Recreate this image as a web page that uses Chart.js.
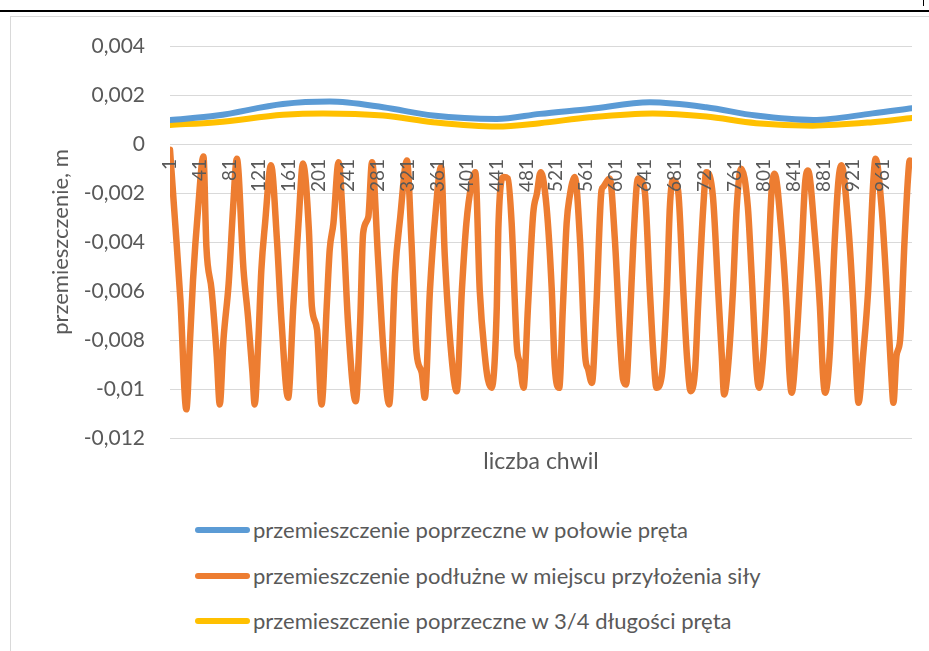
<!DOCTYPE html>
<html lang="pl">
<head>
<meta charset="utf-8">
<title>przemieszczenie</title>
<script src="https://cdn.jsdelivr.net/npm/chart.js@4.4.1/dist/chart.umd.min.js"></script>
<style>
  html, body { margin: 0; padding: 0; background: #fff; }
  body { width: 929px; height: 651px; overflow: hidden; position: relative; font-family: Lato, sans-serif; }
  .kreska { position: absolute; left: 0; top: 10px; width: 929px; height: 2px; background: #000; }
  .znak { position: absolute; left: 923px; top: 0; width: 1px; height: 6px; background: #000; }
  .ramka { position: absolute; left: 10px; top: 16px; width: 940px; height: 700px; border: 1px solid #d9d9d9; }
  #wykres { position: absolute; left: 0; top: 0; }
  .poz { position: absolute; left: 195px; height: 30px; }
  .poz .linia { position: absolute; left: 0; top: 12px; width: 55px; height: 6px; border-radius: 3px; }
  .poz .tekst { position: absolute; left: 58px; top: 0; line-height: 30px; font-size: 22px; color: #595959; white-space: nowrap; }
</style>
</head>
<body>
<div class="kreska"></div>
<div class="znak"></div>
<div class="ramka"></div>
<canvas id="wykres" width="929" height="490"></canvas>
<div id="legenda"></div>
<script>
// dane
const nazwy = [
  'przemieszczenie poprzeczne w połowie pręta',
  'przemieszczenie podłużne w miejscu przyłożenia siły',
  'przemieszczenie poprzeczne w 3/4 długości pręta'
];
const kolory = ['#5B9BD5', '#ED7D31', '#FFC000'];

const xTicks = [1, 41, 81, 121, 161, 201, 241, 281, 321, 361, 401, 441, 481, 521, 561, 601, 641, 681, 721, 761, 801, 841, 881, 921, 961];
const yTicks = [0.004, 0.002, 0, -0.002, -0.004, -0.006, -0.008, -0.01, -0.012];

// przemieszczenie poprzeczne w połowie pręta
const polowaX = [1, 64, 153, 216, 288, 355, 441, 499, 566, 647, 723, 790, 867, 947, 1000];
const polowaY = [0.00098, 0.00116, 0.00163, 0.00173, 0.00150, 0.00116, 0.00102, 0.00123, 0.00143, 0.00170, 0.00150, 0.00116, 0.00098, 0.00125, 0.00146];

// przemieszczenie poprzeczne w 3/4 długości pręta
const trzyCzwX = [1, 64, 153, 207, 288, 355, 441, 499, 566, 651, 723, 790, 866, 947, 1000];
const trzyCzwY = [0.00078, 0.00089, 0.00119, 0.00125, 0.00116, 0.00089, 0.00071, 0.00085, 0.00109, 0.00125, 0.00112, 0.00085, 0.00075, 0.00089, 0.00106];

// przemieszczenie podłużne w miejscu przyłożenia siły
const podluzneX = [
  1, 8, 15, 23, 28, 32, 39, 46, 50, 57, 64, 68, 73, 80, 86, 91, 100, 106, 112, 115,
  120, 124, 129, 137, 145, 151, 160, 167, 174, 180, 188, 192, 199, 205, 212, 216, 221, 228, 234, 241,
  251, 257, 261, 268, 273, 281, 288, 296, 304, 311, 320, 326, 333, 340, 344, 351, 358, 366, 371, 380,
  387, 394, 400, 407, 412, 418, 425, 429, 434, 441, 443, 450, 456, 461, 468, 472, 477, 483, 490, 495,
  500, 508, 515, 519, 525, 530, 535, 539, 546, 553, 560, 564, 569, 575, 582, 584, 593, 600, 607, 611,
  615, 620, 625, 631, 640, 647, 652, 656, 663, 670, 674, 678, 685, 692, 697, 702, 708, 712, 719, 723,
  732, 739, 744, 747, 752, 759, 764, 770, 779, 784, 791, 794, 800, 806, 811, 815, 824, 831, 835, 838,
  844, 851, 856, 860, 869, 876, 880, 883, 889, 896, 901, 905, 914, 921, 925, 928, 934, 941, 948, 951,
  959, 966, 972, 975, 979, 984, 990, 995, 997, 1000
];
const podluzneY = [
  -0.00024, -0.00324, -0.00636, -0.01083, -0.00799, -0.00555, -0.00257, -0.00051, -0.0042, -0.00596,
  -0.00867, -0.01063, -0.00799, -0.00568, -0.00257, -0.0006, -0.00514, -0.00704, -0.00934, -0.01063,
  -0.00799, -0.00514, -0.00324, -0.00087, -0.00392, -0.00717, -0.01036, -0.00663, -0.00324, -0.0008,
  -0.00352, -0.00663, -0.00758, -0.01063, -0.00663, -0.00433, -0.00324, -0.00074, -0.00324, -0.00745,
  -0.0105, -0.00731, -0.00365, -0.00298, -0.00074, -0.0046, -0.00826, -0.01063, -0.00528, -0.00298,
  -0.00067, -0.00392, -0.00853, -0.00934, -0.01036, -0.00596, -0.00298, -0.00094, -0.0046, -0.00867,
  -0.01009, -0.00596, -0.00324, -0.00162, -0.00115, -0.00596, -0.00867, -0.00961, -0.00995, -0.00663,
  -0.00352, -0.00135, -0.00141, -0.00324, -0.00826, -0.00894, -0.00995, -0.00663, -0.00284, -0.00202,
  -0.00115, -0.00257, -0.00596, -0.00907, -0.00995, -0.00663, -0.00324, -0.00216, -0.00135, -0.00392,
  -0.00867, -0.0092, -0.00975, -0.00663, -0.00189, -0.00176, -0.00141, -0.00392, -0.00799, -0.00961,
  -0.00982, -0.00731, -0.00392, -0.00141, -0.00189, -0.00596, -0.00867, -0.00995, -0.00948, -0.00596,
  -0.00257, -0.00148, -0.00189, -0.00596, -0.00867, -0.01009, -0.0092, -0.00663, -0.00257, -0.00115,
  -0.00216, -0.00596, -0.00867, -0.01022, -0.0092, -0.00596, -0.00257, -0.00101, -0.00257, -0.00528,
  -0.00934, -0.00995, -0.00853, -0.00528, -0.00189, -0.00121, -0.00352, -0.00663, -0.00934, -0.01015,
  -0.00826, -0.0046, -0.00162, -0.00108, -0.00365, -0.00663, -0.00934, -0.01015, -0.00867, -0.00392,
  -0.00148, -0.00087, -0.00324, -0.00663, -0.00934, -0.01056, -0.00867, -0.00596, -0.00148, -0.0006,
  -0.00257, -0.00596, -0.00934, -0.01056, -0.00867, -0.00799, -0.00392, -0.00121, -0.00067, -0.00074
];

const szary = '#595959';
const czcionka = 'Lato';

const punkty = (xs, ys) => xs.map((x, i) => ({ x: x, y: ys[i] }));
const formatuj = v => {
  const s = String(Number(v.toFixed(3)));
  return s === '-0' ? '0' : s.replace('.', ',');
};

const serie = [punkty(polowaX, polowaY), punkty(podluzneX, podluzneY), punkty(trzyCzwX, trzyCzwY)];

const ctx = document.getElementById('wykres').getContext('2d');
new Chart(ctx, {
  type: 'line',
  data: {
    datasets: serie.map((d, i) => ({
      label: nazwy[i],
      data: d,
      borderColor: kolory[i],
      backgroundColor: kolory[i],
      borderWidth: i === 1 ? 6.5 : 6,
      borderCapStyle: 'round',
      borderJoinStyle: 'round',
      pointRadius: 0,
      cubicInterpolationMode: 'monotone',
      fill: false,
      order: i === 1 ? 2 : 1
    }))
  },
  options: {
    responsive: false,
    animation: false,
    layout: { padding: { left: 30, right: 17, top: 46, bottom: 12 } },
    plugins: { legend: { display: false }, tooltip: { enabled: false } },
    scales: {
      x: {
        type: 'linear',
        min: 1,
        max: 1000,
        position: { y: 0 },
        afterBuildTicks: s => { s.ticks = xTicks.map(v => ({ value: v })); },
        grid: { display: false, drawTicks: false },
        border: { display: false },
        ticks: {
          z: 1,
          autoSkip: false, minRotation: 90, maxRotation: 90, padding: 15,
          color: szary, font: { family: czcionka, size: 19 },
          callback: v => String(v)
        }
      },
      xTytul: {
        type: 'linear',
        position: 'bottom',
        display: true,
        min: 0,
        max: 1,
        afterFit: s => { s.height = 40; },
        ticks: { display: false },
        grid: { display: false, drawTicks: false },
        border: { display: false },
        title: {
          display: true, text: 'liczba chwil', color: szary,
          font: { family: czcionka, size: 23 }, padding: { top: 0, bottom: 3 }
        }
      },
      y: {
        min: -0.012,
        max: 0.004,
        afterBuildTicks: s => { s.ticks = yTicks.map(v => ({ value: v })); },
        afterFit: s => { s.width = 140; },
        grid: { color: '#D9D9D9', lineWidth: 1, drawTicks: false },
        border: { display: false },
        ticks: {
          padding: 25, color: szary, font: { family: czcionka, size: 21 },
          callback: v => formatuj(v)
        },
        title: {
          display: true, text: 'przemieszczenie, m', color: szary,
          font: { family: czcionka, size: 22 }, padding: { top: 18, bottom: 0 }
        }
      }
    }
  }
});

// legenda pionowa pod wykresem
const legenda = document.getElementById('legenda');
const wiersze = [530, 576, 621];
nazwy.forEach((n, i) => {
  const el = document.createElement('div');
  el.className = 'poz';
  el.style.top = (wiersze[i] - 15) + 'px';
  const l = document.createElement('div');
  l.className = 'linia';
  l.style.background = kolory[i];
  const t = document.createElement('span');
  t.className = 'tekst';
  t.textContent = n;
  el.appendChild(l);
  el.appendChild(t);
  legenda.appendChild(el);
});
</script>
</body>
</html>
